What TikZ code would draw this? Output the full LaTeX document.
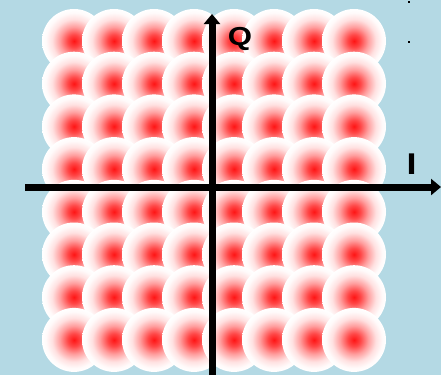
\documentclass[tikz,border=0pt]{standalone}
\usepackage{fontspec}
\setmainfont{Liberation Sans}
\usetikzlibrary{arrows.meta}
\definecolor{bgblue}{RGB}{180,217,228}
\pgfdeclareradialshading{blob}{\pgfpoint{0bp}{0bp}}{color(0bp)=(red!92!white); color(5bp)=(red!72!white); color(11bp)=(red!38!white); color(17bp)=(red!12!white); color(22bp)=(red!2!white); color(25bp)=(white); color(50bp)=(white)}
\begin{document}
\begin{tikzpicture}[x=1pt,y=-1pt,
  axis/.style={line width=7pt,-{Triangle[length=10pt,width=16pt]}},
  lbl/.style={anchor=base, inner sep=0pt, xscale=1.2},
  dot/.style={fill=black}]
\fill[bgblue] (0,0) rectangle (441,375);
\useasboundingbox (0,0) rectangle (441,375);
\foreach \j in {0,...,7}
  \foreach \i in {0,...,7}
    \shade[shading=blob] ({74+40*\i},{41+42.7*\j}) circle[radius=32];
\coordinate (xs) at (25,187);
\coordinate (xe) at (441,187);
\coordinate (ys) at (212,375);
\coordinate (ye) at (212,14);
\draw[axis] (xs) -- (xe);
\draw[axis] (ys) -- (ye);
\node[lbl, font=\fontsize{26}{26}\selectfont\bfseries] (q) at (240,45) {Q};
\node[lbl, font=\fontsize{30}{30}\selectfont\bfseries] (i) at (411.5,174.5) {I};
\fill[dot] (408,1) rectangle (410,3);
\fill[dot] (408,41) rectangle (410,43);
\end{tikzpicture}
\end{document}
